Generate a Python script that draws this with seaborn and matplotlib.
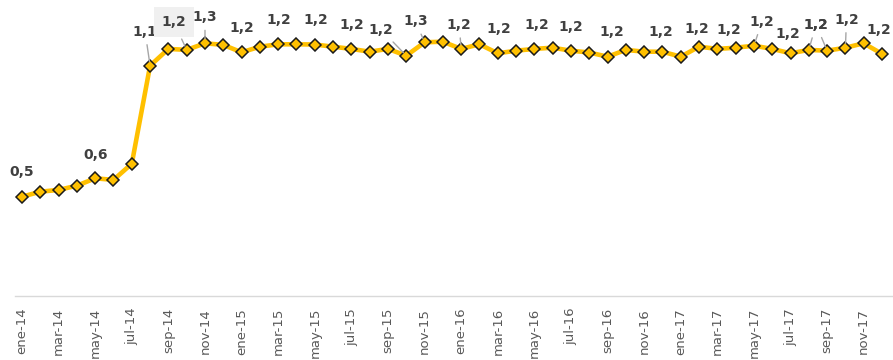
import matplotlib
matplotlib.use("Agg")
import matplotlib.pyplot as plt
import seaborn as sns
import pandas as pd

# Monthly series, ene-14 .. dic-17
meses = ["ene", "feb", "mar", "abr", "may", "jun",
         "jul", "ago", "sep", "oct", "nov", "dic"]
anios = ["14", "15", "16", "17"]
periodos = [f"{m}-{a}" for a in anios for m in meses]

valores = [
    0.485, 0.510, 0.519, 0.540, 0.577, 0.569, 0.650, 1.140, 1.224, 1.219, 1.252, 1.244,
    1.207, 1.235, 1.247, 1.247, 1.246, 1.235, 1.224, 1.210, 1.224, 1.190, 1.257, 1.260,
    1.224, 1.247, 1.202, 1.215, 1.224, 1.230, 1.215, 1.206, 1.185, 1.219, 1.210, 1.210,
    1.185, 1.235, 1.224, 1.230, 1.240, 1.224, 1.202, 1.219, 1.215, 1.230, 1.252, 1.199,
]

# Points that carry a data label
etiquetados = [0, 4, 7, 9, 10, 12, 14, 16, 18, 21, 22, 24, 26, 28, 30,
               32, 35, 37, 38, 40, 42, 43, 44, 45, 47]

# Label placement (pixel offsets from the point) and whether a leader line is drawn
desplaz = {
    0: (0, 25), 4: (0, 23), 7: (-5, 34), 9: (-13, 28), 10: (0, 26),
    12: (0, 24), 14: (1, 24), 16: (1, 24), 18: (0, 24), 21: (-25, 26),
    22: (-9, 21), 24: (-2, 24), 26: (1, 24), 28: (2, 24), 30: (0, 24),
    32: (4, 25), 35: (-2, 20), 37: (-2, 18), 38: (11, 19), 40: (8, 24),
    42: (-3, 19), 43: (7, 25), 44: (-11, 26), 45: (1, 28), 47: (-3, 24),
}
con_guia = {7, 9, 10, 21, 22, 24, 40, 43, 44, 45}

df = pd.DataFrame({"idx": range(len(valores)), "valor": valores})

sns.set_theme(style="white")
plt.rcParams["font.family"] = ["DejaVu Sans"]

fig = plt.figure(figsize=(8.93, 3.6), dpi=100)
ax = fig.add_axes([15 / 893, 64 / 360, 878 / 893, 296 / 360])

oro = "#FFC000"
sns.lineplot(data=df, x="idx", y="valor", ax=ax, color=oro, linewidth=3.3,
             marker="D", markersize=6.6, markerfacecolor=oro,
             markeredgecolor="#1a1a1a", markeredgewidth=1.1, zorder=2)

ax.set_xlim(-0.383, 47.60)
ax.set_ylim(-0.0115, 1.4685)

for i in etiquetados:
    v = valores[i]
    texto = f"{v:.1f}".replace(".", ",")
    dx, dy = desplaz[i]
    kw = dict(textcoords="offset pixels", ha="center", va="center",
              fontsize=10, fontweight="bold", color="#404040", zorder=4,
              annotation_clip=False)
    if i in con_guia:
        kw["arrowprops"] = dict(arrowstyle="-", color="#a6a6a6", lw=1.0,
                                shrinkA=2, shrinkB=3)
    if i == 9:
        kw["bbox"] = dict(boxstyle="square,pad=0.55", fc="#f0f0f0", ec="none")
        kw["zorder"] = 5
    ax.annotate(texto, xy=(i, v), xytext=(dx, dy), **kw)

ax.set_xticks(range(0, len(periodos), 2))
ax.set_xticklabels(periodos[::2], rotation=90, fontsize=9.5, color="#595959")
ax.set_yticks([])
ax.tick_params(axis="x", length=0, pad=8.5)
ax.set_xlabel("")
ax.set_ylabel("")

for lado in ["top", "left", "right"]:
    ax.spines[lado].set_visible(False)
ax.spines["bottom"].set_color("#d9d9d9")
ax.spines["bottom"].set_linewidth(1.0)

fig.savefig("out.png", dpi=100)
